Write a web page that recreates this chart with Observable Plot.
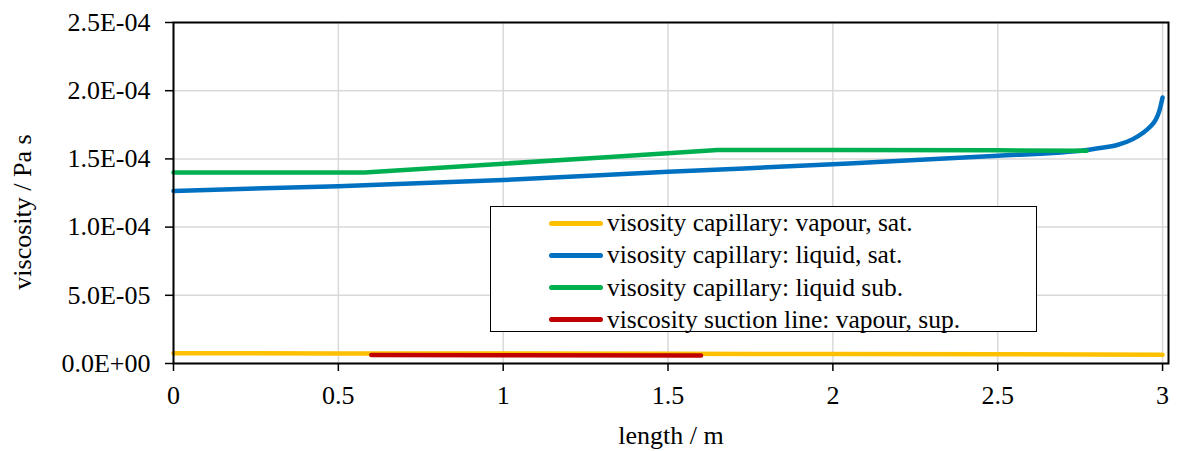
<!DOCTYPE html>
<html><head><meta charset="utf-8">
<script src="https://cdn.jsdelivr.net/npm/d3@7"></script>
<script src="https://cdn.jsdelivr.net/npm/@observablehq/plot@0.6"></script>
<style>
body{margin:0;background:#fff;}
#wrap{position:relative;width:1178px;height:451px;font-family:"Liberation Serif","Times New Roman",serif;}
#legend{position:absolute;left:490px;top:206px;width:547px;height:126px;border:1.5px solid #000;background:#fff;box-sizing:border-box;}
.row{position:absolute;left:58px;height:32px;display:flex;align-items:center;font-size:25.5px;color:#000;white-space:nowrap;}
.sw{width:54px;height:5px;border-radius:3px;margin-right:4px;}
</style></head>
<body><div id="wrap"></div>
<script>
const seriesNames = ["visosity capillary: vapour, sat.","visosity capillary: liquid, sat.","visosity capillary: liquid sub.","viscosity suction line: vapour, sup."];
const seriesColors = ["#FFC000","#0070C0","#00B050","#C00000"];
const seriesCurves = ["linear","monotone-x","linear","linear"];
const xTicks = [0,0.5,1,1.5,2,2.5,3];
const yTicks = [0,5e-5,1e-4,1.5e-4,2e-4,2.5e-4];
const xLabel = "length / m";
const yLabel = "viscosity / Pa s";

const vapourX = [0,0.5,1,1.5,2,2.5,3];
const vapourY = [7.5e-6,7.4e-6,7.3e-6,7.1e-6,6.9e-6,6.8e-6,6.5e-6];
const liquidX = [0,0.5,1,1.5,2,2.5,2.77,2.81,2.86,2.91,2.94,2.96,2.98,2.99,3.0];
const liquidY = [1.265e-4,1.30e-4,1.345e-4,1.405e-4,1.46e-4,1.523e-4,1.565e-4,1.58e-4,1.60e-4,1.645e-4,1.69e-4,1.73e-4,1.79e-4,1.85e-4,1.95e-4];
const subX = [0,0.58,1.0,1.3,1.65,2.0,2.5,2.77];
const subY = [1.40e-4,1.40e-4,1.465e-4,1.51e-4,1.565e-4,1.565e-4,1.563e-4,1.56e-4];
const suctionX = [0.6,1.0,1.6];
const suctionY = [6.2e-6,6.0e-6,5.8e-6];

const toRows = (xs, ys) => xs.map((x,i)=>({x, y: ys[i]}));
const seriesData = [toRows(vapourX,vapourY), toRows(liquidX,liquidY), toRows(subX,subY), toRows(suctionX,suctionY)];

const fmtE = d => { const [m,e] = d.toExponential(1).split("e"); const n = +e; return m + "E" + (n<0?"-":"+") + String(Math.abs(n)).padStart(2,"0"); };

const chart = Plot.plot({
  width: 1178, height: 451,
  marginLeft: 173, marginRight: 10, marginTop: 22, marginBottom: 88,
  style: {fontFamily: '"Liberation Serif","Times New Roman",serif', fontSize: "26px", color: "#000", background: "#fff", overflow: "visible"},
  x: {domain: [0, 3.018]},
  y: {domain: [0, 2.5e-4]},
  marks: [
    Plot.gridX(xTicks, {stroke: "#d9d9d9", strokeOpacity: 1, strokeWidth: 1.5}),
    Plot.gridY(yTicks, {stroke: "#d9d9d9", strokeOpacity: 1, strokeWidth: 1.5}),
    ...seriesData.map((d,i)=>Plot.line(d, {x:"x", y:"y", stroke: seriesColors[i], strokeWidth: 4.5, curve: seriesCurves[i], strokeLinecap: "round", strokeLinejoin: "round"})),
    Plot.frame({stroke: "#000", strokeWidth: 2}),
    Plot.axisX({ticks: xTicks, tickFormat: d => String(d), tickSize: 8, tickPadding: 14, strokeWidth: 1.5, fontSize: 26, label: xLabel, labelAnchor: "center", labelArrow: "none", labelOffset: 80}),
    Plot.axisY({ticks: yTicks, tickFormat: fmtE, tickSize: 8, tickPadding: 15, strokeWidth: 1.5, fontSize: 26, label: null}),
    Plot.text([yLabel], {text: d => d, frameAnchor: "left", textAnchor: "middle", lineAnchor: "middle", rotate: -90, dx: -151, dy: 19, fontSize: 26, fill: "#000"})
  ]
});
const wrap = document.getElementById("wrap");
wrap.appendChild(chart);
const legend = document.createElement("div");
legend.id = "legend";
seriesNames.forEach((name,i)=>{
  const row = document.createElement("div");
  row.className = "row";
  row.style.top = (0 + i*32.3) + "px";
  const sw = document.createElement("div");
  sw.className = "sw"; sw.style.background = seriesColors[i];
  const t = document.createElement("span"); t.textContent = name;
  row.appendChild(sw); row.appendChild(t);
  legend.appendChild(row);
});
wrap.appendChild(legend);
</script></body></html>
